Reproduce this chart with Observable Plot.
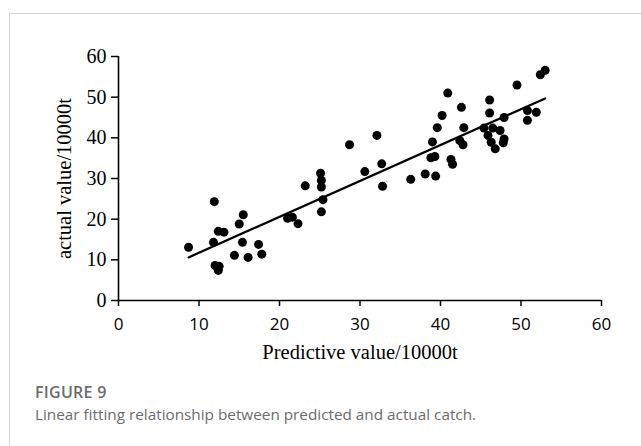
<!DOCTYPE html>
<html>
<head>
<meta charset="utf-8">
<script src="https://cdn.jsdelivr.net/npm/d3@7"></script>
<script src="https://cdn.jsdelivr.net/npm/@observablehq/plot@0.6"></script>
<style>
  html, body { margin: 0; padding: 0; background: #fff; }
  body { width: 641px; height: 446px; position: relative; overflow: hidden; }
  #frame { position: absolute; left: 9px; top: 13px; right: 0; bottom: 0;
           border-top: 1.5px solid #d4d4d4; border-left: 1.5px solid #d4d4d4; }
  #chart { position: absolute; left: 0; top: 0; }
  #fig { position: absolute; left: 35px; top: 381px; font-family: "Open Sans", sans-serif;
         font-size: 16px; font-weight: 600; color: #6b6b6b; letter-spacing: 0.3px; }
  #cap { position: absolute; left: 35px; top: 404px; font-family: "Open Sans", sans-serif;
         font-size: 15.3px; color: #6b6b6b; }
  g[aria-label="x-axis tick label"] text { font-family: "Open Sans", sans-serif; }
  g[aria-label="y-axis tick label"] text { font-family: "Liberation Serif", serif; }
</style>
</head>
<body>
<div id="frame"></div>
<div id="chart"></div>
<div id="fig">FIGURE 9</div>
<div id="cap">Linear fitting relationship between predicted and actual catch.</div>
<script>
const predicted = [8.7, 11.8, 11.9, 12.0, 12.5, 12.4, 12.4, 13.1, 14.4, 15.0, 15.5, 15.4, 16.1, 17.4, 17.8,
  21.0, 21.6, 22.3, 23.2, 25.1, 25.2, 25.2, 25.4, 25.2, 28.7, 30.6, 32.1, 32.7, 32.8, 36.3, 38.1, 39.4,
  38.8, 39.3, 39.0, 39.6, 40.2, 40.9, 41.3, 41.5, 42.4, 42.8, 42.6, 42.9, 45.4, 45.9, 46.1, 46.1, 46.5,
  46.3, 46.8, 47.4, 47.9, 47.9, 47.8, 49.5, 50.8, 50.8, 51.9, 52.4, 53.0];
const actual = [13.1, 14.3, 24.3, 8.6, 8.4, 7.4, 17.0, 16.8, 11.1, 18.8, 21.1, 14.3, 10.6, 13.8, 11.4,
  20.2, 20.5, 18.9, 28.2, 31.3, 29.5, 27.9, 24.8, 21.8, 38.3, 31.7, 40.6, 33.6, 28.1, 29.8, 31.1, 30.6,
  35.1, 35.4, 39.0, 42.5, 45.5, 51.0, 34.7, 33.5, 39.3, 38.3, 47.5, 42.5, 42.4, 40.6, 46.1, 49.3, 42.4,
  38.9, 37.3, 41.8, 45.0, 39.7, 38.8, 53.0, 46.7, 44.3, 46.3, 55.5, 56.6];
const fitX = [8.7, 53.0];
const fitY = [10.6, 49.7];
const xTicks = [0, 10, 20, 30, 40, 50, 60];
const yTicks = [0, 10, 20, 30, 40, 50, 60];
const xTitle = "Predictive value/10000t";
const yTitle = "actual value/10000t";

const points = predicted.map((p, i) => ({p, a: actual[i]}));
const fit = fitX.map((x, i) => ({x, y: fitY[i]}));

const chart = Plot.plot({
  width: 641,
  height: 372,
  marginLeft: 118,
  marginRight: 40,
  marginTop: 56,
  marginBottom: 72,
  x: {domain: [0, 60]},
  y: {domain: [0, 60]},
  style: {background: "transparent", color: "#000"},
  marks: [
    Plot.axisX({ticks: xTicks, tickSize: 6, tickPadding: 11, fontSize: 17, label: null, strokeWidth: 1.5}),
    Plot.axisY({ticks: yTicks, tickSize: 7, tickPadding: 5, fontSize: 20, label: null, strokeWidth: 1.5}),
    Plot.ruleY([0], {stroke: "#000", strokeWidth: 1.6}),
    Plot.ruleX([0], {stroke: "#000", strokeWidth: 1.6}),
    Plot.line(fit, {x: "x", y: "y", stroke: "#000", strokeWidth: 2.2}),
    Plot.dot(points, {x: "p", y: "a", r: 4.5, fill: "#000", stroke: "none"}),
    Plot.text([xTitle], {frameAnchor: "bottom", dy: 52, lineAnchor: "middle", textAnchor: "middle", fontSize: 20.5, fontFamily: "Liberation Serif, serif", fill: "#000"}),
    Plot.text([yTitle], {frameAnchor: "left", dx: -54, rotate: -90, textAnchor: "middle", lineAnchor: "middle", fontSize: 20.5, fontFamily: "Liberation Serif, serif", fill: "#000"})
  ]
});
document.getElementById("chart").appendChild(chart);
</script>
</body>
</html>
